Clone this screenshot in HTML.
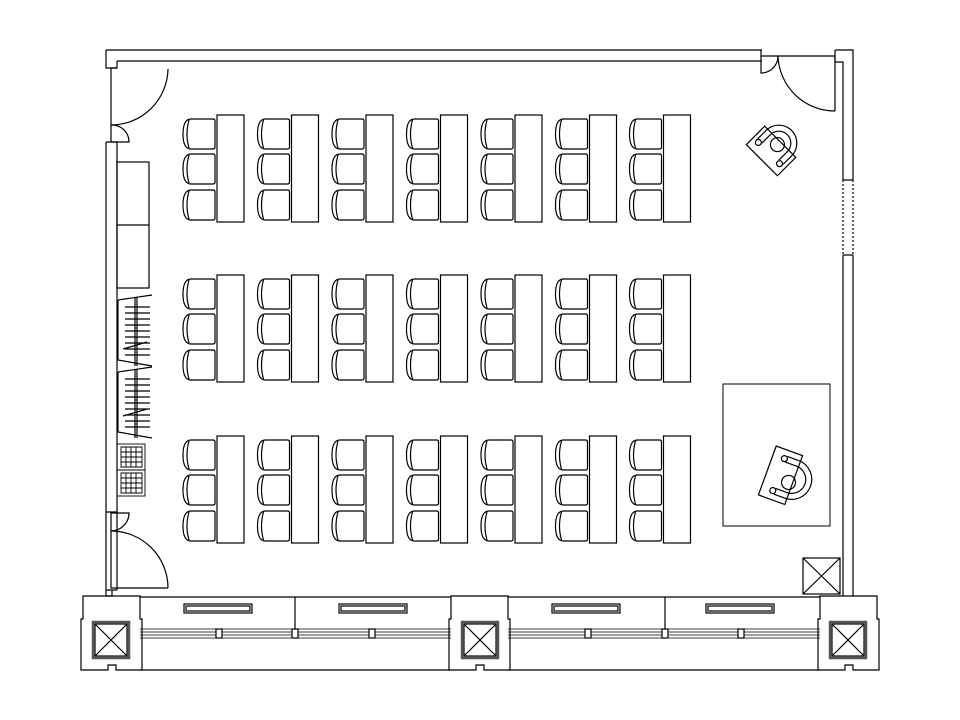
<!DOCTYPE html>
<html><head><style>html,body{margin:0;padding:0;background:#fff}svg{display:block}</style></head>
<body>
<svg width="960" height="720" viewBox="0 0 960 720" xmlns="http://www.w3.org/2000/svg" fill="none" stroke="#000" stroke-width="1.2">
<defs>
<g id="chair">
  <path d="M10 1 H32 Q34 1 34 3 V29 Q34 31 32 31 H10 Q2 31 2 16 Q2 1 10 1 Z"/>
  <path d="M8 2 Q4 16 8 30"/>
</g>
<g id="group">
  <use href="#chair" x="181" y="118"/>
  <use href="#chair" x="181" y="153"/>
  <use href="#chair" x="181" y="189"/>
  <rect x="217" y="115" width="27" height="107"/>
</g>
<g id="row">
  <use href="#group" x="0"/><use href="#group" x="74.5"/><use href="#group" x="149"/>
  <use href="#group" x="223.5"/><use href="#group" x="298"/><use href="#group" x="372.5"/><use href="#group" x="446.5"/>
</g>
<g id="xbox"><rect x="0" y="0" width="36" height="36" stroke="#555" stroke-width="2.5"/><rect x="2" y="2" width="32" height="32"/><path d="M2 2 L34 34 M34 2 L2 34"/></g>
<g id="col">
  <path d="M0 0 H57 V23 H59 V74 H33 V69 H25 V74 H-2 V23 H0 Z"/>
</g>
</defs>

<path d="M106 50 H762 M117 61 H762 M106 50 V68 H117 V61"/>
<path d="M106 142 V590 M117 142 V590 M106 142 H117"/>
<path d="M106 512 H117 M106 590 H117"/>
<path d="M111 68 V142 M111 68 H117"/>
<path d="M168 69 A57 57 0 0 1 111 125"/>
<path d="M111 125 A17 17 0 0 1 129 142 H111"/>
<path d="M111 512 V588 H168"/>
<path d="M111 531 A57 57 0 0 1 168 588"/>
<path d="M111 531 A18 18 0 0 0 129 513 H111"/>
<path d="M761 50 V73 A17 17 0 0 0 778 56"/>
<path d="M761 56 H835 V111"/>
<path d="M778 56 A57 57 0 0 0 835 111"/>
<path d="M835 50 H853 V180 M835 50 V62 H843 V180 H853"/>
<path d="M843 180 V255 M853 180 V255" stroke-dasharray="2 2"/>
<path d="M843 255 H853 M843 255 V596 M853 255 V596"/>

<rect x="117" y="162" width="32" height="126"/>
<path d="M117 225 H149"/>
<g>
  <path d="M118 300 L152 295 M118 300 V360 L152 366 M135 297 V366 M137 297 V366" />
  <path d="M125 307 H150 M125 313 H150 M125 319 H150 M125 325 H150 M125 331 H150 M125 337 H150 M125 343 H150 M125 349 H150 M125 355 H150 M123 349 L147 342"/>
  <path d="M118 372 L152 367 M118 372 V432 L152 438 M135 369 V438 M137 369 V438"/>
  <path d="M125 379 H150 M125 385 H150 M125 391 H150 M125 397 H150 M125 403 H150 M125 409 H150 M125 415 H150 M125 421 H150 M125 427 H150 M123 416 L147 409"/>
</g>
<g stroke-width="0.9">
  <rect x="117" y="444" width="28" height="26"/><rect x="117" y="470" width="28" height="26"/>
  <path d="M121 447 H142 V467 H121 Z M121 473 H142 V493 H121 Z"/>
  <path d="M126 447 V467 M131 447 V467 M136 447 V467 M121 452 H142 M121 457 H142 M121 462 H142"/>
  <path d="M126 473 V493 M131 473 V493 M136 473 V493 M121 478 H142 M121 483 H142 M121 488 H142"/>
</g>

<use href="#row" y="0"/>
<use href="#row" y="160"/>
<use href="#row" y="321"/>

<rect x="723" y="384" width="107" height="142" stroke-width="1"/>
<g transform="translate(788,478) rotate(20)">
  <rect x="-22" y="-26" width="28" height="52"/>
  <path d="M-8 -20 H4 A20 20 0 0 1 4 20 H-8"/>
  <path d="M-8 -14 H4 A14 14 0 0 1 4 14 H-8"/>
  <circle cx="-10" cy="-17" r="3"/><circle cx="-10" cy="17" r="3"/>
  <circle cx="2" cy="4" r="7"/>
</g>
<g transform="translate(776,146) rotate(-45)">
  <rect x="-20" y="-22" width="26" height="44"/>
  <path d="M-8 -18 H4 A18 18 0 0 1 4 18 H-8"/>
  <path d="M-8 -12 H4 A12 12 0 0 1 4 12 H-8"/>
  <circle cx="-10" cy="-15" r="3"/><circle cx="-10" cy="15" r="3"/>
  <circle cx="2" cy="0" r="7"/>
</g>

<g transform="translate(803,558)"><rect width="37" height="36"/><path d="M0 0 L37 36 M37 0 L0 36"/></g>

<path d="M140 597 H451 M508 597 H820 M140 670 H451 M508 670 H820"/>
<path d="M140 629 H451 M140 632 H451 M140 635 H451 M140 638 H451 M508 629 H820 M508 632 H820 M508 635 H820 M508 638 H820" stroke-width="0.8"/>
<path d="M295 597 V629 M665 597 V629"/>
<g fill="#fff">
  <rect x="216" y="629" width="6" height="9"/><rect x="292" y="629" width="6" height="9"/><rect x="369" y="629" width="6" height="9"/>
  <rect x="585" y="629" width="6" height="9"/><rect x="662" y="629" width="6" height="9"/><rect x="738" y="629" width="6" height="9"/>
</g>
<g>
  <rect x="184" y="604" width="68" height="9"/><rect x="186" y="606" width="64" height="5"/>
  <rect x="339" y="604" width="68" height="9"/><rect x="341" y="606" width="64" height="5"/>
  <rect x="552" y="604" width="68" height="9"/><rect x="554" y="606" width="64" height="5"/>
  <rect x="706" y="604" width="68" height="9"/><rect x="708" y="606" width="64" height="5"/>
</g>
<path d="M106 590 V596 H112 V590"/>
<use href="#col" x="83" y="596"/>
<use href="#col" x="451" y="596"/>
<use href="#col" x="820" y="596"/>
<use href="#xbox" x="93" y="622"/>
<use href="#xbox" x="462" y="622"/>
<use href="#xbox" x="830" y="622"/>
</svg>
</body></html>
